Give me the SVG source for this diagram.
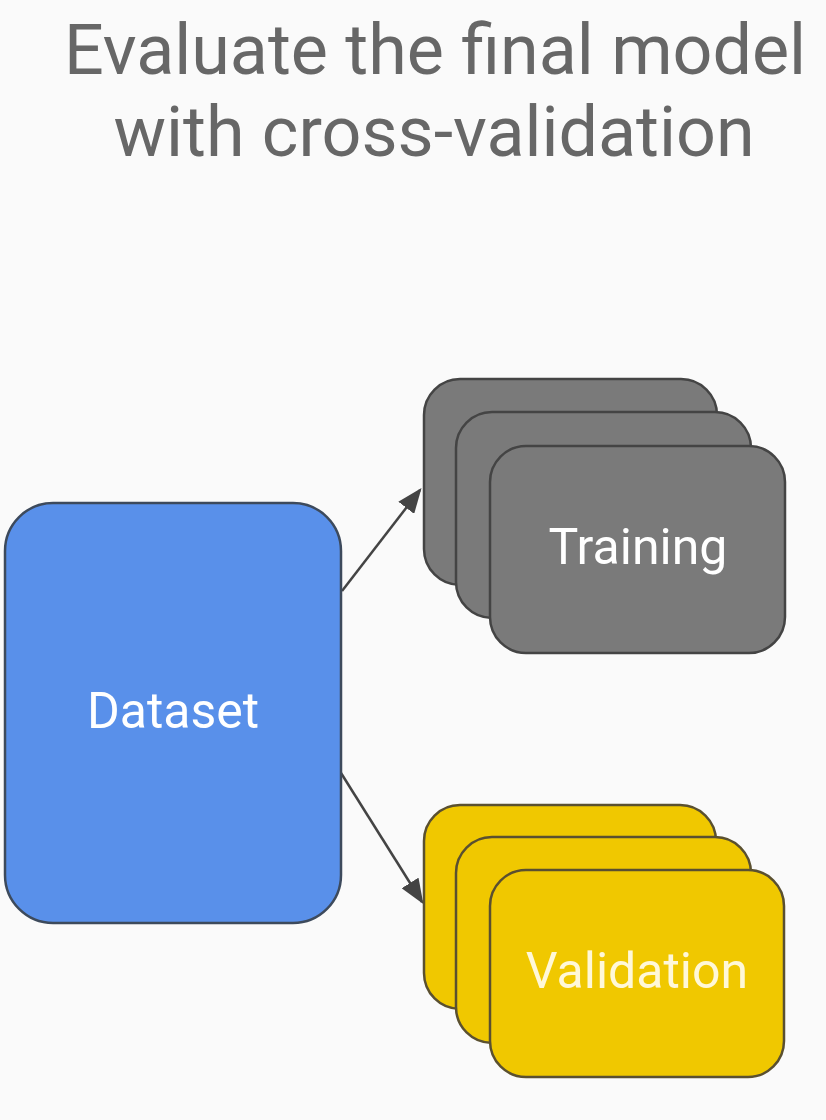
<svg xmlns="http://www.w3.org/2000/svg" width="826" height="1120" viewBox="0 0 826 1120">
<style>
.title{font-family:Roboto,"Liberation Sans",sans-serif;font-size:70px;fill:#676767;text-anchor:middle}
.lbl{font-family:Roboto,"Liberation Sans",sans-serif;font-size:50px;fill:#ffffff;text-anchor:middle}
.vlbl{font-family:Roboto,"Liberation Sans",sans-serif;font-size:50px;fill:#fff8d8;text-anchor:middle}
.ds{fill:#5990ea;stroke:#3d4a5c;stroke-width:2.5}
.tr{fill:#7a7a7a;stroke:#444;stroke-width:2.5}
.va{fill:#f0c800;stroke:#5a5030;stroke-width:2.5}
.edge{stroke:#444;stroke-width:2.5;fill:none}
</style>
<defs>
<marker id="arr" viewBox="0 0 10 8" refX="9" refY="4" markerWidth="10" markerHeight="8" markerUnits="strokeWidth" orient="auto">
<path d="M0,0 L10,4 L0,8 z" fill="#444"/>
</marker>
</defs>
<rect width="826" height="1120" fill="#fafafa"/>
<g id="title">
<text class="title" x="435" y="74">Evaluate the final model</text>
<text class="title" x="434" y="156">with cross-validation</text>
</g>
<g id="connectors">
<line class="edge" x1="342" y1="591" x2="420" y2="490" marker-end="url(#arr)"/>
<line class="edge" x1="341" y1="773" x2="422" y2="902" marker-end="url(#arr)"/>
</g>
<g id="dataset">
<rect class="ds" x="5" y="503" width="336" height="420" rx="48"/>
<text class="lbl" x="173" y="728">Dataset</text>
</g>
<g id="training">
<rect class="tr" x="424" y="379" width="293" height="206" rx="36"/>
<rect class="tr" x="456" y="412" width="295" height="206" rx="36"/>
<rect class="tr" x="490" y="446" width="295" height="207" rx="36"/>
<text class="lbl" x="638" y="564">Training</text>
</g>
<g id="validation">
<rect class="va" x="424" y="805" width="292" height="204" rx="36"/>
<rect class="va" x="456" y="837" width="295" height="206" rx="36"/>
<rect class="va" x="490" y="870" width="294" height="207" rx="36"/>
<text class="vlbl" x="637" y="988">Validation</text>
</g>
</svg>
